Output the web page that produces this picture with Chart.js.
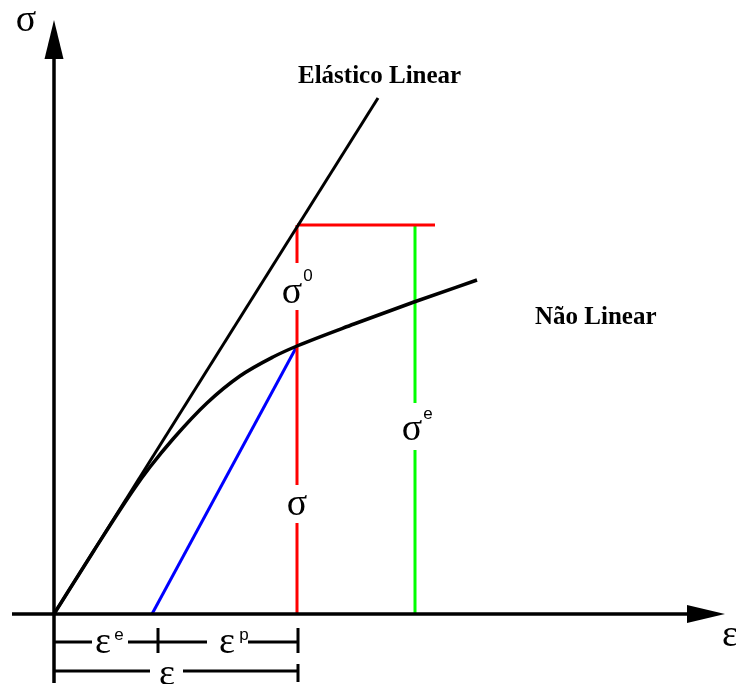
<!DOCTYPE html>
<html>
<head>
<meta charset="utf-8">
<script src="https://cdn.jsdelivr.net/npm/chart.js@4"></script>
<style>
  html, body { margin: 0; padding: 0; background: #fff; }
  #wrap { width: 736px; height: 684px; }
</style>
</head>
<body>
<div id="wrap"><canvas id="chart" width="736" height="684"></canvas></div>
<script>
// units: strain (x) and stress (y), arbitrary, origin at the axes crossing
const xRange = [-5.4, 68.2];
const yRange = [-7.0, 61.4];

const xAxisLine = [{x: -4.2, y: 0}, {x: 63.4, y: 0}];
const yAxisLine = [{x: 0, y: -6.9}, {x: 0, y: 55.6}];

// linear elastic branch
const elasticLine = [{x: 0, y: 0}, {x: 32.4, y: 51.6}];

// nonlinear stress-strain curve
const curveX = [0, 4, 8, 9.6, 11.9, 15.3, 18.6, 21.9, 24.3, 30, 36, 42.3];
const curveY = [0, 6.35, 12.5, 14.7, 17.5, 21.1, 23.8, 25.7, 26.8, 29.0, 31.2, 33.4];

// unloading line
const unloadLine = [{x: 9.8, y: 0}, {x: 24.3, y: 26.8}];

// red: sigma0 / sigma, green: sigma-e
const redTop = [{x: 24.3, y: 38.9}, {x: 24.3, y: 35.1}];
const redTopBar = [{x: 24.3, y: 38.9}, {x: 38.1, y: 38.9}];
const redMid = [{x: 24.3, y: 30.4}, {x: 24.3, y: 12.9}];
const redLow = [{x: 24.3, y: 9.1}, {x: 24.3, y: 0}];
const greenTop = [{x: 36.1, y: 38.9}, {x: 36.1, y: 21.1}];
const greenLow = [{x: 36.1, y: 16.4}, {x: 36.1, y: 0}];

// strain dimension lines below the axis
const dimRow1 = [
  [{x: 0, y: -2.8}, {x: 3.8, y: -2.8}],
  [{x: 7.4, y: -2.8}, {x: 15.3, y: -2.8}],
  [{x: 19.4, y: -2.8}, {x: 24.4, y: -2.8}],
  [{x: 10.4, y: -1.4}, {x: 10.4, y: -3.9}],
  [{x: 24.4, y: -1.4}, {x: 24.4, y: -3.9}]
];
const dimRow2 = [
  [{x: 0, y: -5.7}, {x: 9.6, y: -5.7}],
  [{x: 12.9, y: -5.7}, {x: 24.4, y: -5.7}],
  [{x: 24.4, y: -5.0}, {x: 24.4, y: -6.8}]
];

// arrow heads: tip, base corners
const xArrow = [{x: 67.1, y: 0}, {x: 63.3, y: 0.9}, {x: 63.3, y: -0.9}];
const yArrow = [{x: 0, y: 59.4}, {x: -0.95, y: 55.5}, {x: 0.95, y: 55.5}];

// text labels
const greekLabels = [
  {t: 'σ', x: -2.8, y: 59.3},
  {t: 'ε', x: 67.6, y: -2.2},
  {t: 'σ', x: 23.8, y: 32.1},
  {t: 'σ', x: 24.3, y: 10.9},
  {t: 'σ', x: 35.8, y: 18.4},
  {t: 'ε', x: 4.9, y: -2.9},
  {t: 'ε', x: 17.3, y: -2.9},
  {t: 'ε', x: 11.3, y: -6.1}
];
const superLabels = [
  {t: '0', x: 25.4, y: 33.8},
  {t: 'e', x: 37.4, y: 20.0},
  {t: 'e', x: 6.5, y: -2.1},
  {t: 'p', x: 19.0, y: -2.1}
];
const curveLabels = [
  {t: 'Elástico Linear', x: 24.4, y: 53.7},
  {t: 'Não Linear', x: 48.1, y: 29.6}
];

const curveData = curveX.map((x, i) => ({x: x, y: curveY[i]}));

function seg(data, color, width) {
  return {
    data: data,
    showLine: true,
    borderColor: color,
    borderWidth: width,
    pointRadius: 0,
    clip: false,
    tension: 0
  };
}

const datasets = [
  seg(xAxisLine, '#000', 3.5),
  seg(yAxisLine, '#000', 3.5),
  seg(elasticLine, '#000', 3),
  Object.assign(seg(curveData, '#000', 3.5), {cubicInterpolationMode: 'monotone'}),
  seg(redTop, '#ff0000', 3),
  seg(redTopBar, '#ff0000', 3),
  seg(redMid, '#ff0000', 3),
  seg(redLow, '#ff0000', 3),
  seg(greenTop, '#00ff00', 3),
  seg(greenLow, '#00ff00', 3),
  seg(unloadLine, '#0000ff', 3)
];
dimRow1.concat(dimRow2).forEach(d => datasets.push(seg(d, '#000', 3)));

const annotations = {
  id: 'annotations',
  afterDatasetsDraw(chart) {
    const c = chart.ctx;
    const xs = chart.scales.x;
    const ys = chart.scales.y;
    const px = p => [xs.getPixelForValue(p.x), ys.getPixelForValue(p.y)];

    c.save();
    c.fillStyle = '#000';
    [xArrow, yArrow].forEach(tri => {
      c.beginPath();
      tri.forEach((p, i) => {
        const [a, b] = px(p);
        if (i === 0) c.moveTo(a, b); else c.lineTo(a, b);
      });
      c.closePath();
      c.fill();
    });

    c.textAlign = 'center';
    c.textBaseline = 'middle';
    c.font = '38px "Liberation Serif", serif';
    greekLabels.forEach(l => {
      const [a, b] = px(l);
      c.fillText(l.t, a, b);
    });

    c.font = '17px "Liberation Sans", sans-serif';
    superLabels.forEach(l => {
      const [a, b] = px(l);
      c.fillText(l.t, a, b);
    });

    c.textAlign = 'left';
    c.font = 'bold 25px "Liberation Serif", serif';
    curveLabels.forEach(l => {
      const [a, b] = px(l);
      c.fillText(l.t, a, b);
    });
    c.restore();
  }
};

new Chart(document.getElementById('chart'), {
  type: 'scatter',
  data: {datasets: datasets},
  options: {
    responsive: false,
    animation: false,
    layout: {padding: 0},
    plugins: {legend: {display: false}, tooltip: {enabled: false}},
    scales: {
      x: {type: 'linear', display: false, min: xRange[0], max: xRange[1]},
      y: {type: 'linear', display: false, min: yRange[0], max: yRange[1]}
    }
  },
  plugins: [annotations]
});
</script>
</body>
</html>
